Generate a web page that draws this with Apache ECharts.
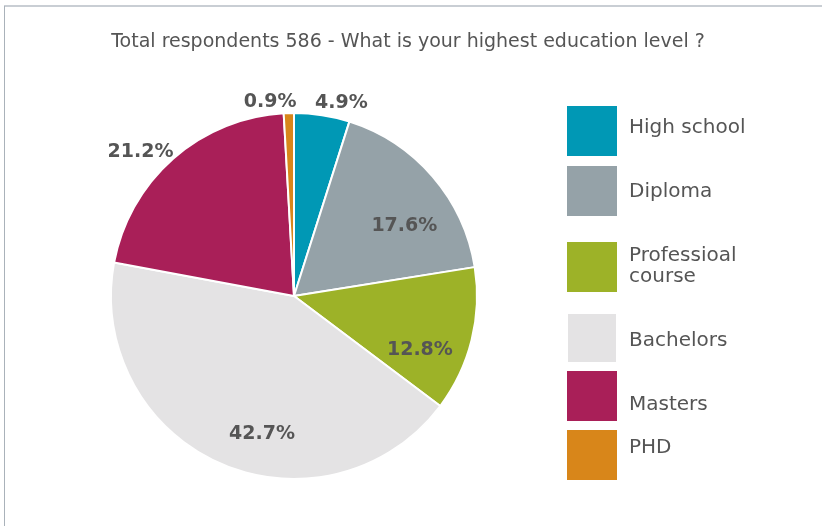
<!DOCTYPE html>
<html>
<head>
<meta charset="utf-8">
<script src="https://cdn.jsdelivr.net/npm/echarts@6/dist/echarts.min.js"></script>
<style>
  html, body { margin: 0; padding: 0; background: #fff; }
  #chart { width: 822px; height: 526px; }
</style>
</head>
<body>
<div id="chart"></div>
<script>
// Survey: highest education level of respondents (share in %)
const titleText = 'Total respondents 586 - What is your highest education level ?';
const categories = ['High school', 'Diploma', 'Professioal\ncourse', 'Bachelors', 'Masters', 'PHD'];
const shares = [4.9, 17.6, 12.8, 42.7, 21.2, 0.9];
const colors = ['#0098b5', '#95a2a8', '#9db228', '#e4e3e4', '#a91f58', '#d8861a'];

// Which labels sit outside the disc (thin slices) and which sit inside
const outsideLabel = [true, false, false, false, true, true];
// Small hand nudges of each percentage label away from its computed spot
const labelNudge = [[16, 10], [5, 21], [-9, 21], [24, 11], [-18, 10], [-18, 11]];

const CX = 294, CY = 296, R = 183;
const labelFont = 'DejaVu Sans';
const textColor = '#555555';

function makeData(showFn) {
  return categories.map((name, i) => ({
    name: name,
    value: shares[i],
    label: { show: showFn(i) }
  }));
}

const labelStyle = {
  position: 'inside',
  formatter: p => p.value.toFixed(1) + '%',
  color: textColor,
  fontFamily: labelFont,
  fontWeight: 'bold',
  fontSize: 19
};

function nudge(params) {
  const d = labelNudge[params.dataIndex];
  return { dx: d[0], dy: d[1], hideOverlap: false };
}

const chart = echarts.init(document.getElementById('chart'), null, { renderer: 'canvas' });

// Legend swatches and captions laid out as a column on the right
const legendRows = [
  { top: 106, h: 50, textY: 128 },
  { top: 166, h: 50, textY: 192 },
  { top: 242, h: 50, textY: 266 },
  { top: 314, h: 48, textY: 341, inset: 1 },
  { top: 371, h: 50, textY: 405 },
  { top: 430, h: 50, textY: 448 }
];
const graphics = [
  { type: 'line', shape: { x1: 4, y1: 6, x2: 822, y2: 6 }, style: { stroke: '#c9ced4', lineWidth: 2 }, silent: true },
  { type: 'line', shape: { x1: 4.5, y1: 6, x2: 4.5, y2: 526 }, style: { stroke: '#aab2ba', lineWidth: 1 }, silent: true }
];
categories.forEach((name, i) => {
  const row = legendRows[i];
  const inset = row.inset || 0;
  graphics.push({
    type: 'rect',
    shape: { x: 567 + inset, y: row.top, width: 50 - 2 * inset, height: row.h },
    style: { fill: colors[i] },
    silent: true
  });
  graphics.push({
    type: 'text',
    x: 629,
    y: row.textY,
    style: {
      text: name,
      fill: textColor,
      font: '20px "DejaVu Sans"',
      verticalAlign: 'middle',
      lineHeight: 21
    },
    silent: true
  });
});

chart.setOption({
  animation: false,
  backgroundColor: '#ffffff',
  title: {
    text: titleText,
    left: 403,
    top: 28,
    textAlign: 'center',
    textStyle: { fontFamily: 'DejaVu Sans', fontWeight: 'normal', fontSize: 19, color: textColor }
  },
  tooltip: { show: false },
  graphic: graphics,
  series: [
    {
      type: 'pie',
      center: [CX, CY],
      radius: [0, R],
      startAngle: 90,
      clockwise: true,
      silent: true,
      label: { show: false },
      labelLine: { show: false },
      itemStyle: { borderColor: '#ffffff', borderWidth: 2 },
      data: categories.map((name, i) => ({ name: name, value: shares[i], itemStyle: { color: colors[i] } }))
    },
    {
      // invisible ring carrying the labels of the wide slices
      type: 'pie',
      center: [CX, CY],
      radius: [0, 272],
      startAngle: 90,
      silent: true,
      avoidLabelOverlap: false,
      itemStyle: { color: 'rgba(0,0,0,0)' },
      label: labelStyle,
      labelLine: { show: false },
      labelLayout: nudge,
      data: makeData(i => !outsideLabel[i])
    },
    {
      // invisible ring carrying the labels of the thin slices
      type: 'pie',
      center: [CX, CY],
      radius: [0, 404],
      startAngle: 90,
      silent: true,
      avoidLabelOverlap: false,
      itemStyle: { color: 'rgba(0,0,0,0)' },
      label: labelStyle,
      labelLine: { show: false },
      labelLayout: nudge,
      data: makeData(i => outsideLabel[i])
    }
  ]
});
</script>
</body>
</html>
